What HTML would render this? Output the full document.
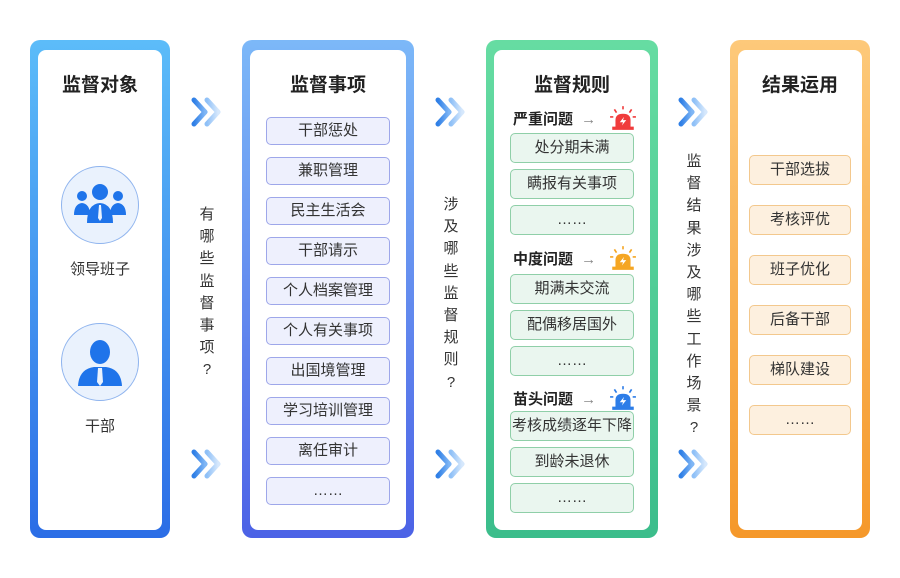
<!DOCTYPE html>
<html><head><meta charset="utf-8"><style>
*{margin:0;padding:0;box-sizing:border-box}
body{width:900px;height:578px;background:#fff;position:relative;overflow:hidden;font-family:"Liberation Sans","Noto Sans CJK SC",sans-serif;color:#333}
.col{position:absolute;top:40px;height:498px;border-radius:10px;padding:8px;padding-top:10px}
.in{background:#fff;border-radius:8px;width:100%;height:100%;position:relative}
.t{position:absolute;left:0;right:0;text-align:center;font-weight:bold;font-size:19px;color:#222}
.b{position:absolute;text-align:center;font-size:15px;border-radius:5px;color:#333}
.v{position:absolute;width:20px;text-align:center;font-size:15px;line-height:22.2px;color:#333}
.h{position:absolute;font-weight:bold;font-size:15px;color:#222}
.circ{position:absolute;width:78px;height:78px;border-radius:50%;background:#eaf2fd;border:1px solid #8fb4ee}
.lbl{position:absolute;width:124px;text-align:center;font-size:15px}
</style></head><body>
<div class="col" style="left:30px;width:140px;background:linear-gradient(#5cbcf9,#2b6de6)"><div class="in"></div></div>
<div class="col" style="left:242px;width:172px;background:linear-gradient(#7cb8f8,#4c62e6)"><div class="in"></div></div>
<div class="col" style="left:486px;width:172px;background:linear-gradient(#66dca2,#3bbd8b)"><div class="in"></div></div>
<div class="col" style="left:730px;width:140px;background:linear-gradient(#fdc97a,#f5982a)"><div class="in"></div></div>

<div class="t" style="left:30px;width:140px;top:70px">监督对象</div>
<div class="t" style="left:242px;width:172px;top:70px">监督事项</div>
<div class="t" style="left:486px;width:172px;top:70px">监督规则</div>
<div class="t" style="left:730px;width:140px;top:70px">结果运用</div>

<div class="circ" style="left:61px;top:166px"></div>
<svg style="position:absolute;left:72px;top:180px" width="56" height="48" viewBox="0 0 56 48">
<g fill="#1f74ea"><circle cx="10" cy="16" r="5"/><path d="M2 35 Q2 24 10 23 Q18 24 18 35Z"/>
<circle cx="46" cy="16" r="5"/><path d="M38 35 Q38 24 46 23 Q54 24 54 35Z"/>
<circle cx="28" cy="12" r="8"/><path d="M15 43 Q15 24 28 23 Q41 24 41 43Z"/></g>
<path d="M27 25 L29 25 L30 38 L28 41 L26 38Z" fill="#eaf2fd"/></svg>
<div class="lbl" style="left:38px;top:258px">领导班子</div>
<div class="circ" style="left:61px;top:323px"></div>
<svg style="position:absolute;left:76px;top:338px" width="48" height="50" viewBox="0 0 48 50">
<g fill="#1f74ea"><ellipse cx="24" cy="14" rx="10" ry="12"/><path d="M2 48 Q3 31 18 29 L30 29 Q45 31 46 48Z"/></g>
<path d="M22 30 L26 30 L27 44 L24 48 L21 44Z" fill="#eaf2fd"/></svg>
<div class="lbl" style="left:38px;top:415px">干部</div>

<div style="position:absolute;left:266px;top:117px;width:124px">
<div class="b" style="left:0;width:124px;height:28px;line-height:26px;background:#eef0fd;border:1px solid #9ea7ea;top:0">干部惩处</div>
<div class="b" style="left:0;width:124px;height:28px;line-height:26px;background:#eef0fd;border:1px solid #9ea7ea;top:40px">兼职管理</div>
<div class="b" style="left:0;width:124px;height:28px;line-height:26px;background:#eef0fd;border:1px solid #9ea7ea;top:80px">民主生活会</div>
<div class="b" style="left:0;width:124px;height:28px;line-height:26px;background:#eef0fd;border:1px solid #9ea7ea;top:120px">干部请示</div>
<div class="b" style="left:0;width:124px;height:28px;line-height:26px;background:#eef0fd;border:1px solid #9ea7ea;top:160px">个人档案管理</div>
<div class="b" style="left:0;width:124px;height:28px;line-height:26px;background:#eef0fd;border:1px solid #9ea7ea;top:200px">个人有关事项</div>
<div class="b" style="left:0;width:124px;height:28px;line-height:26px;background:#eef0fd;border:1px solid #9ea7ea;top:240px">出国境管理</div>
<div class="b" style="left:0;width:124px;height:28px;line-height:26px;background:#eef0fd;border:1px solid #9ea7ea;top:280px">学习培训管理</div>
<div class="b" style="left:0;width:124px;height:28px;line-height:26px;background:#eef0fd;border:1px solid #9ea7ea;top:320px">离任审计</div>
<div class="b" style="left:0;width:124px;height:28px;line-height:26px;background:#eef0fd;border:1px solid #9ea7ea;top:360px">……</div>
</div>

<div class="h" style="left:513px;top:108px">严重问题 <span style="font-weight:normal;color:#888;margin-left:4px">→</span></div>
<div class="h" style="left:513px;top:248px">中度问题 <span style="font-weight:normal;color:#888;margin-left:4px">→</span></div>
<div class="h" style="left:513px;top:388px">苗头问题 <span style="font-weight:normal;color:#888;margin-left:4px">→</span></div>
<svg style="position:absolute;left:609px;top:105px" width="28" height="26" viewBox="0 0 26 24"><g stroke="#f03c3c" stroke-width="1.5"><line x1="13" y1="1" x2="13" y2="4"/><line x1="5" y1="4" x2="7" y2="7"/><line x1="21" y1="4" x2="19" y2="7"/><line x1="1" y1="11" x2="4" y2="11"/><line x1="25" y1="11" x2="22" y2="11"/></g><path d="M6 20 L6 14 Q6 8 13 8 Q20 8 20 14 L20 20Z M3 20 H23 V23 H3Z" fill="#f03c3c"/><path d="M14 11 L10 16 L13 16 L12 19 L16 14 L13 14Z" fill="#fff"/></svg>
<svg style="position:absolute;left:609px;top:245px" width="28" height="26" viewBox="0 0 26 24"><g stroke="#f5a623" stroke-width="1.5"><line x1="13" y1="1" x2="13" y2="4"/><line x1="5" y1="4" x2="7" y2="7"/><line x1="21" y1="4" x2="19" y2="7"/><line x1="1" y1="11" x2="4" y2="11"/><line x1="25" y1="11" x2="22" y2="11"/></g><path d="M6 20 L6 14 Q6 8 13 8 Q20 8 20 14 L20 20Z M3 20 H23 V23 H3Z" fill="#f5a623"/><path d="M14 11 L10 16 L13 16 L12 19 L16 14 L13 14Z" fill="#fff"/></svg>
<svg style="position:absolute;left:609px;top:385px" width="28" height="26" viewBox="0 0 26 24"><g stroke="#2d7de8" stroke-width="1.5"><line x1="13" y1="1" x2="13" y2="4"/><line x1="5" y1="4" x2="7" y2="7"/><line x1="21" y1="4" x2="19" y2="7"/><line x1="1" y1="11" x2="4" y2="11"/><line x1="25" y1="11" x2="22" y2="11"/></g><path d="M6 20 L6 14 Q6 8 13 8 Q20 8 20 14 L20 20Z M3 20 H23 V23 H3Z" fill="#2d7de8"/><path d="M14 11 L10 16 L13 16 L12 19 L16 14 L13 14Z" fill="#fff"/></svg>

<div style="position:absolute;left:510px;top:0;width:124px">
<div class="b" style="width:124px;height:30px;line-height:28px;background:#eaf6ef;border:1px solid #8fcfa8;top:133px">处分期未满</div>
<div class="b" style="width:124px;height:30px;line-height:28px;background:#eaf6ef;border:1px solid #8fcfa8;top:169px">瞒报有关事项</div>
<div class="b" style="width:124px;height:30px;line-height:28px;background:#eaf6ef;border:1px solid #8fcfa8;top:205px">……</div>
<div class="b" style="width:124px;height:30px;line-height:28px;background:#eaf6ef;border:1px solid #8fcfa8;top:274px">期满未交流</div>
<div class="b" style="width:124px;height:30px;line-height:28px;background:#eaf6ef;border:1px solid #8fcfa8;top:310px">配偶移居国外</div>
<div class="b" style="width:124px;height:30px;line-height:28px;background:#eaf6ef;border:1px solid #8fcfa8;top:346px">……</div>
<div class="b" style="width:124px;height:30px;line-height:28px;background:#eaf6ef;border:1px solid #8fcfa8;top:411px">考核成绩逐年下降</div>
<div class="b" style="width:124px;height:30px;line-height:28px;background:#eaf6ef;border:1px solid #8fcfa8;top:447px">到龄未退休</div>
<div class="b" style="width:124px;height:30px;line-height:28px;background:#eaf6ef;border:1px solid #8fcfa8;top:483px">……</div>
</div>

<div style="position:absolute;left:749px;top:0;width:102px">
<div class="b" style="width:102px;height:30px;line-height:28px;background:#fdf0df;border:1px solid #f3c88d;top:155px">干部选拔</div>
<div class="b" style="width:102px;height:30px;line-height:28px;background:#fdf0df;border:1px solid #f3c88d;top:205px">考核评优</div>
<div class="b" style="width:102px;height:30px;line-height:28px;background:#fdf0df;border:1px solid #f3c88d;top:255px">班子优化</div>
<div class="b" style="width:102px;height:30px;line-height:28px;background:#fdf0df;border:1px solid #f3c88d;top:305px">后备干部</div>
<div class="b" style="width:102px;height:30px;line-height:28px;background:#fdf0df;border:1px solid #f3c88d;top:355px">梯队建设</div>
<div class="b" style="width:102px;height:30px;line-height:28px;background:#fdf0df;border:1px solid #f3c88d;top:405px">……</div>
</div>

<div class="v" style="left:197px;top:204px">有<br>哪<br>些<br>监<br>督<br>事<br>项<br>?</div>
<div class="v" style="left:441px;top:194px">涉<br>及<br>哪<br>些<br>监<br>督<br>规<br>则<br>?</div>
<div class="v" style="left:684px;top:151px">监<br>督<br>结<br>果<br>涉<br>及<br>哪<br>些<br>工<br>作<br>场<br>景<br>?</div>

<svg width="0" height="0" style="position:absolute"><defs>
<linearGradient id="c1" x1="0" x2="1"><stop offset="0" stop-color="#2f7fe6"/><stop offset="1" stop-color="#7fb6f5"/></linearGradient>
<linearGradient id="c2" x1="0" x2="1"><stop offset="0" stop-color="#8fc0f7"/><stop offset="1" stop-color="#d6e8fc"/></linearGradient></defs></svg>
<svg style="position:absolute;left:191px;top:97px" width="34" height="30"><path d="M3 3 L14 15 L3 27" fill="none" stroke="url(#c1)" stroke-width="5" stroke-linecap="round" stroke-linejoin="round"/><path d="M16 3 L27 15 L16 27" fill="none" stroke="url(#c2)" stroke-width="5" stroke-linecap="round" stroke-linejoin="round"/></svg>
<svg style="position:absolute;left:191px;top:449px" width="34" height="30"><path d="M3 3 L14 15 L3 27" fill="none" stroke="url(#c1)" stroke-width="5" stroke-linecap="round" stroke-linejoin="round"/><path d="M16 3 L27 15 L16 27" fill="none" stroke="url(#c2)" stroke-width="5" stroke-linecap="round" stroke-linejoin="round"/></svg>
<svg style="position:absolute;left:435px;top:97px" width="34" height="30"><path d="M3 3 L14 15 L3 27" fill="none" stroke="url(#c1)" stroke-width="5" stroke-linecap="round" stroke-linejoin="round"/><path d="M16 3 L27 15 L16 27" fill="none" stroke="url(#c2)" stroke-width="5" stroke-linecap="round" stroke-linejoin="round"/></svg>
<svg style="position:absolute;left:435px;top:449px" width="34" height="30"><path d="M3 3 L14 15 L3 27" fill="none" stroke="url(#c1)" stroke-width="5" stroke-linecap="round" stroke-linejoin="round"/><path d="M16 3 L27 15 L16 27" fill="none" stroke="url(#c2)" stroke-width="5" stroke-linecap="round" stroke-linejoin="round"/></svg>
<svg style="position:absolute;left:678px;top:97px" width="34" height="30"><path d="M3 3 L14 15 L3 27" fill="none" stroke="url(#c1)" stroke-width="5" stroke-linecap="round" stroke-linejoin="round"/><path d="M16 3 L27 15 L16 27" fill="none" stroke="url(#c2)" stroke-width="5" stroke-linecap="round" stroke-linejoin="round"/></svg>
<svg style="position:absolute;left:678px;top:449px" width="34" height="30"><path d="M3 3 L14 15 L3 27" fill="none" stroke="url(#c1)" stroke-width="5" stroke-linecap="round" stroke-linejoin="round"/><path d="M16 3 L27 15 L16 27" fill="none" stroke="url(#c2)" stroke-width="5" stroke-linecap="round" stroke-linejoin="round"/></svg>
</body></html>
